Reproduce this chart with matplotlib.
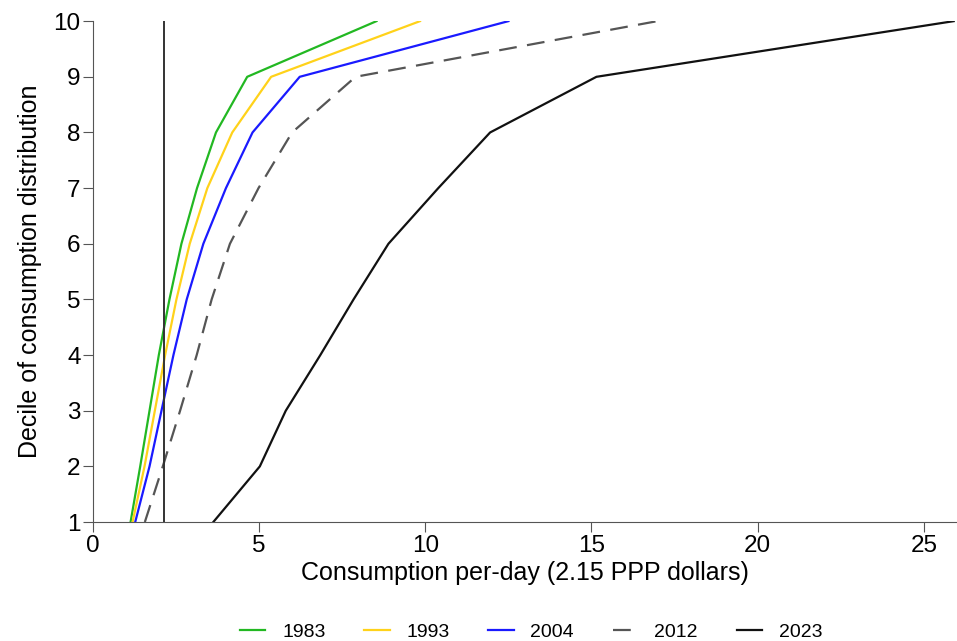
import matplotlib
matplotlib.use('Agg')
import matplotlib.pyplot as plt

plt.rcParams['font.family'] = ['Liberation Sans', 'DejaVu Sans']

deciles = [1, 2, 3, 4, 5, 6, 7, 8, 9, 10]
c1983 = [1.13, 1.42, 1.70, 1.98, 2.30, 2.66, 3.13, 3.70, 4.64, 8.53]
c1993 = [1.19, 1.55, 1.86, 2.17, 2.51, 2.91, 3.44, 4.19, 5.36, 9.84]
c2004 = [1.27, 1.70, 2.06, 2.42, 2.82, 3.32, 4.00, 4.80, 6.22, 12.5]
c2012 = [1.56, 2.10, 2.62, 3.12, 3.57, 4.12, 4.98, 5.99, 7.90, 16.98]
c2023 = [3.62, 5.02, 5.80, 6.84, 7.84, 8.89, 10.39, 11.95, 15.15, 25.9]
poverty_line = 2.15


def main():
    fig = plt.figure(figsize=(9.57, 6.41), dpi=100)
    ax = fig.add_axes([0.0972, 0.1856, 0.9028, 0.7814])

    ax.plot(c1983, deciles, color='#22b822', lw=1.6, label='1983')
    ax.plot(c1993, deciles, color='#ffd21a', lw=1.6, label='1993')
    ax.plot(c2004, deciles, color='#1a1aff', lw=1.6, label='2004')
    ax.plot(c2012, deciles, color='#555555', lw=1.6, dashes=(8, 4.7), label='2012')
    ax.plot(c2023, deciles, color='#111111', lw=1.6, label='2023')
    ax.axvline(poverty_line, color='#333333', lw=1.4)

    ax.set_xlim(0, 26)
    ax.set_ylim(1, 10)
    ax.set_xticks([0, 5, 10, 15, 20, 25])
    ax.set_yticks(deciles)
    ax.spines['top'].set_visible(False)
    ax.spines['right'].set_visible(False)
    for s in ['left', 'bottom']:
        ax.spines[s].set_color('#555555')
    ax.tick_params(direction='out', length=7, color='#555555', labelsize=17.5, pad=2)
    ax.set_xlabel('Consumption per-day (2.15 PPP dollars)', fontsize=18, labelpad=3)
    ax.set_ylabel('Decile of consumption distribution', fontsize=18, labelpad=8)

    fig.legend(loc='lower center', bbox_to_anchor=(0.555, -0.027), ncol=5,
               frameon=False, fontsize=14, handlelength=1.3, handletextpad=0.85,
               columnspacing=2.0)

    fig.savefig('out.png', dpi=100)


if __name__ == '__main__':
    main()
